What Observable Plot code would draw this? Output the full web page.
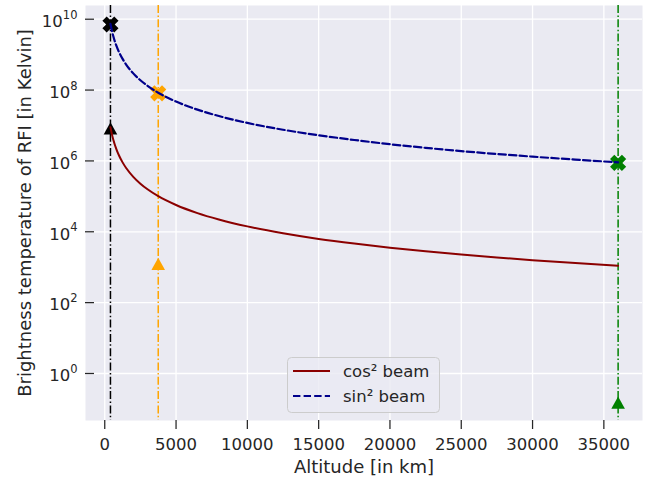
<!DOCTYPE html>
<html><head><meta charset="utf-8">
<script src="https://cdn.jsdelivr.net/npm/d3@7"></script>
<script src="https://cdn.jsdelivr.net/npm/@observablehq/plot@0.6"></script>
<style>
body{margin:0;background:#fff;font-family:"DejaVu Sans",sans-serif;}
#fig{position:relative;width:662px;height:481px;}
#legend{position:absolute;left:287px;top:357px;}
</style></head><body><div id="fig"></div>
<script>
// Values
const altitudes = [400, 500, 600, 800, 1000, 1250, 1500, 2000, 2500, 3000, 3750, 5000, 6500, 8000, 10000, 12500, 15000, 17500, 20000, 22500, 25000, 27500, 30000, 33000, 36000];
const cosBeam = [8.9e6, 5.7e6, 3.96e6, 2.23e6, 1.42e6, 9.1e5, 6.3e5, 3.56e5, 2.28e5, 1.58e5, 1.01e5, 5.7e4, 3.37e4, 2.23e4, 1.42e4, 9.1e3, 6.3e3, 4.65e3, 3.56e3, 2.81e3, 2.28e3, 1.88e3, 1.58e3, 1.31e3, 1.1e3];
const sinBeam = [7.4e9, 4.74e9, 3.29e9, 1.85e9, 1.18e9, 7.6e8, 5.26e8, 2.96e8, 1.89e8, 1.32e8, 8.4e7, 4.74e7, 2.8e7, 1.85e7, 1.18e7, 7.6e6, 5.3e6, 3.9e6, 2.96e6, 2.34e6, 1.89e6, 1.57e6, 1.32e6, 1.09e6, 9.1e5];
const orbitAltitudes = [400, 3750, 36000];
const orbitColors = ["black", "orange", "green"];
const sinMarkers = [7.1e9, 8.1e7, 8.8e5];
const cosMarkers = [8.3e6, 1.25e3, 0.15];
const seriesNames = ["cos² beam", "sin² beam"];
const seriesColors = ["#8B0000", "#00008B"];
const xTicks = [0, 5000, 10000, 15000, 20000, 25000, 30000, 35000];
const yTicks = [1, 1e2, 1e4, 1e6, 1e8, 1e10];
const xLabel = "Altitude [in km]";
const yLabel = "Brightness temperature of RFI [in Kelvin]";

const cosData = altitudes.map((a, i) => ({altitude: a, temp: cosBeam[i]}));
const sinData = altitudes.map((a, i) => ({altitude: a, temp: sinBeam[i]}));
const orbits = orbitAltitudes.map((a, i) => ({altitude: a, color: orbitColors[i], sinT: sinMarkers[i], cosT: cosMarkers[i]}));

const expOf = d => Math.round(Math.log10(d));
const fmtPow = d => "10^" + expOf(d);

const filledX = {
  draw(ctx, size) {
    const s = Math.sqrt(size / Math.PI);
    const w = s * 0.36;
    const pts = [[w,s],[w,w],[s,w],[s,-w],[w,-w],[w,-s],[-w,-s],[-w,-w],[-s,-w],[-s,w],[-w,w],[-w,s]];
    const c = Math.SQRT1_2;
    pts.forEach(([x, y], i) => { const X = (x - y) * c, Y = (x + y) * c; i ? ctx.lineTo(X, Y) : ctx.moveTo(X, Y); });
    ctx.closePath();
  }
};
const triUp = {
  draw(ctx, size) {
    const s = Math.sqrt(size / Math.PI);
    ctx.moveTo(0, -0.9 * s);
    ctx.lineTo(-s, 0.9 * s);
    ctx.lineTo(s, 0.9 * s);
    ctx.closePath();
  }
};

const ink = "#262626";
const plot = Plot.plot({
  width: 662, height: 481,
  marginLeft: 85, marginRight: 20, marginTop: 5, marginBottom: 61,
  style: {fontFamily: '"DejaVu Sans", sans-serif', background: "white", color: ink, overflow: "visible"},
  x: {domain: [-1350, 37710]},
  y: {type: "log", domain: [Math.pow(10, -1.327), Math.pow(10, 10.387)]},
  color: {type: "identity"},
  marks: [
    Plot.frame({fill: "#EAEAF2", stroke: "none"}),
    Plot.gridX(xTicks, {stroke: "white", strokeOpacity: 1, strokeWidth: 1.3}),
    Plot.gridY(yTicks, {stroke: "white", strokeOpacity: 1, strokeWidth: 1.3}),
    Plot.axisX(xTicks, {tickSize: 9, tickPadding: 9, tickFormat: d3.format("d"), fontSize: 16.5, label: null, stroke: ink, fill: ink, strokeWidth: 1.25}),
    Plot.axisX({ticks: [], label: xLabel, labelAnchor: "center", labelOffset: 52.5, labelArrow: "none", fontSize: 18, fill: ink}),
    Plot.axisY(yTicks, {tickSize: 9, dx: 9, tickFormat: () => "", label: null, stroke: ink, strokeWidth: 1.25}),
    Plot.axisY(yTicks, {tickSize: 0, tickPadding: 8, dy: 2.5, tickFormat: fmtPow, fontSize: 16.5, label: null, fill: ink, ariaLabel: "ypow"}),
    Plot.axisY({ticks: [], label: yLabel, labelAnchor: "center", labelOffset: 66.8, labelArrow: "none", fontSize: 18, fill: ink}),
    Plot.ruleX(orbits, {x: "altitude", stroke: "color", strokeWidth: 1.5, strokeDasharray: "8,2.4,1.5,2.4"}),
    Plot.dot(orbits, {x: "altitude", y: "sinT", fill: "color", stroke: "none", symbol: filledX, r: 8.4}),
    Plot.dot(orbits, {x: "altitude", y: "cosT", fill: "color", stroke: "none", symbol: triUp, r: 6.8}),
    Plot.line(cosData, {x: "altitude", y: "temp", stroke: seriesColors[0], strokeWidth: 2, curve: "monotone-x"}),
    Plot.line(sinData, {x: "altitude", y: "temp", stroke: seriesColors[1], strokeWidth: 2.2, strokeDasharray: "7.4,3.2", curve: "monotone-x"})
  ]
});
const fig = document.getElementById("fig");
fig.appendChild(plot);

// Render "10^n" tick labels with a real superscript
d3.select(plot).selectAll("text").each(function () {
  const t = d3.select(this);
  const s = t.text();
  const m = /^10\^(-?\d+)$/.exec(s);
  if (!m) return;
  t.text("10");
  t.append("tspan").attr("font-size", 11.5).attr("dy", -8.3).text(m[1]);
});

// Legend
const lg = d3.select(fig).append("svg").attr("id", "legend").attr("width", 154).attr("height", 57);
lg.append("rect").attr("x", 0.5).attr("y", 0.5).attr("width", 152).attr("height", 55).attr("rx", 4)
  .attr("fill", "rgba(234,234,242,0.8)").attr("stroke", "#cccccc").attr("stroke-width", 1);
const dashes = [null, "7.4,3.2"];
seriesNames.forEach((name, i) => {
  const yy = 14 + i * 25;
  lg.append("line").attr("x1", 6).attr("x2", 43).attr("y1", yy).attr("y2", yy)
    .attr("stroke", seriesColors[i]).attr("stroke-width", i ? 2.2 : 2).attr("stroke-dasharray", dashes[i]);
  lg.append("text").attr("x", 56).attr("y", yy + 6).attr("font-size", 16.5).attr("fill", ink)
    .attr("font-family", '"DejaVu Sans", sans-serif').text(name);
});
</script></body></html>
